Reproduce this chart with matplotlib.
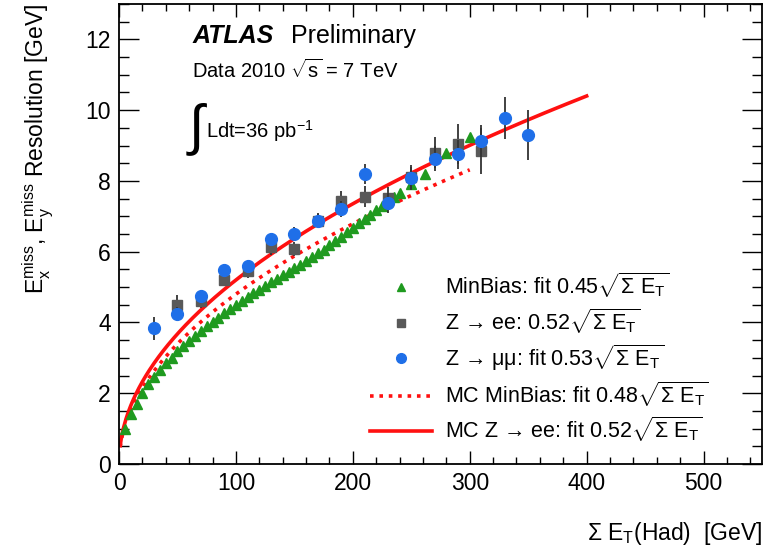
import matplotlib
matplotlib.use("Agg")
import matplotlib.pyplot as plt
import numpy as np
from matplotlib.ticker import MultipleLocator
from matplotlib.lines import Line2D

plt.rcParams["font.family"] = ["Liberation Sans", "DejaVu Sans"]
plt.rcParams["mathtext.fontset"] = "custom"
plt.rcParams["mathtext.rm"] = "Liberation Sans"
plt.rcParams["mathtext.it"] = "Liberation Sans:italic"
plt.rcParams["mathtext.bf"] = "Liberation Sans:bold"

# MinBias data (green triangles)
minbias_x = [5, 10, 15, 20, 25, 30, 35, 40, 45, 50, 55, 60, 65, 70, 75, 80, 85, 90,
             95, 100, 105, 110, 115, 120, 125, 130, 135, 140, 145, 150, 155, 160,
             165, 170, 175, 180, 185, 190, 195, 200, 205, 210, 215, 220, 225, 230,
             235, 240, 250, 262, 280, 300]
minbias_y = [1.0, 1.4, 1.7, 2.0, 2.25, 2.45, 2.65, 2.85, 3.0, 3.18, 3.33, 3.48, 3.62,
             3.76, 3.89, 4.02, 4.14, 4.26, 4.38, 4.5, 4.61, 4.72, 4.83, 4.93, 5.03,
             5.13, 5.23, 5.33, 5.43, 5.53, 5.63, 5.73, 5.84, 5.95, 6.06, 6.18, 6.3,
             6.42, 6.55, 6.68, 6.8, 6.93, 7.05, 7.18, 7.3, 7.42, 7.55, 7.66, 7.9,
             8.2, 8.8, 9.25]

# Z -> ee data (grey squares)
zee_x = [50, 70, 90, 110, 130, 150, 170, 190, 210, 230, 250, 270, 290, 310]
zee_y = [4.48, 4.6, 5.21, 5.45, 6.12, 6.08, 6.88, 7.44, 7.55, 7.52, 8.1, 8.8, 9.05, 8.85]
zee_err = [0.3, 0.2, 0.18, 0.18, 0.2, 0.2, 0.22, 0.28, 0.3, 0.32, 0.35, 0.44, 0.56, 0.65]

# Z -> mumu data (blue circles)
zmm_x = [30, 50, 70, 90, 110, 130, 150, 170, 190, 210, 230, 250, 270, 290, 310, 330, 350]
zmm_y = [3.83, 4.25, 4.76, 5.49, 5.6, 6.37, 6.51, 6.87, 7.21, 8.2, 7.37, 8.08, 8.63,
         8.75, 9.13, 9.77, 9.3]
zmm_err = [0.33, 0.18, 0.15, 0.15, 0.15, 0.17, 0.18, 0.2, 0.22, 0.28, 0.28, 0.3, 0.35,
           0.4, 0.45, 0.59, 0.7]

# MC fits: resolution = k * sqrt(sum ET), drawn up to given range
mc_minbias_k, mc_minbias_max = 0.48, 300
mc_zee_k, mc_zee_max = 0.52, 400

labels = ["MinBias: fit 0.45", "Z → ee: 0.52", "Z → μμ: fit 0.53",
          "MC MinBias: fit 0.48", "MC Z → ee: fit 0.52"]

c_green = "#1f9a1f"
c_grey = "#595959"
c_blue = "#1f6fe8"
c_red = "#ff1010"

fig = plt.figure(figsize=(7.66, 5.5), dpi=100)
ax = fig.add_axes([119 / 766, 86 / 550, 643 / 766, 460 / 550])

ax.plot(minbias_x, minbias_y, "^", color=c_green, ms=7, mec=c_green, zorder=3)
ax.errorbar(zee_x, zee_y, yerr=zee_err, fmt="s", color=c_grey, ms=7.5, ecolor="#333333",
            elinewidth=1.3, capsize=0, zorder=4)
ax.errorbar(zmm_x, zmm_y, yerr=zmm_err, fmt="o", color=c_blue, ms=8.5, ecolor="#333333",
            elinewidth=1.3, capsize=0, zorder=5)

dotted = (0, (1, 1.6))
xs = np.linspace(1, mc_minbias_max, 300)
ax.plot(xs, mc_minbias_k * np.sqrt(xs), color=c_red, lw=2.6, ls=dotted, zorder=2)
xs = np.linspace(1, mc_zee_max, 400)
ax.plot(xs, mc_zee_k * np.sqrt(xs), color=c_red, lw=2.6, zorder=2)

ax.set_xlim(0, 550)
ax.set_ylim(0, 13)
ax.xaxis.set_major_locator(MultipleLocator(100))
ax.xaxis.set_minor_locator(MultipleLocator(20))
ax.yaxis.set_major_locator(MultipleLocator(2))
ax.yaxis.set_minor_locator(MultipleLocator(0.5))
ax.tick_params(which="both", direction="in", top=True, right=True, labelsize=16.5, width=1)
ax.tick_params(axis="x", which="major", length=9.5, pad=6)
ax.tick_params(axis="x", which="minor", length=5)
ax.tick_params(axis="y", which="major", length=14.5, pad=6)
ax.tick_params(axis="y", which="minor", length=7.5)
for s in ax.spines.values():
    s.set_linewidth(1.3)

ax.set_xlabel(r"$\Sigma$ E$_{\mathrm{T}}$(Had)  [GeV]", fontsize=16.5, loc="right", labelpad=18)
ax.set_ylabel(r"E$_{\mathrm{x}}^{\mathrm{miss}}$, E$_{\mathrm{y}}^{\mathrm{miss}}$ Resolution [GeV]",
              fontsize=16.5, loc="top", labelpad=22)

ax.text(0.114, 0.915, "ATLAS", transform=ax.transAxes, fontsize=18,
        fontweight="bold", style="italic")
ax.text(0.268, 0.915, "Preliminary", transform=ax.transAxes, fontsize=18)
ax.text(0.114, 0.84, r"Data 2010 $\sqrt{\mathrm{s}}$ = 7 TeV", transform=ax.transAxes, fontsize=14.5)
ax.text(0.104, 0.695, r"$\int$", transform=ax.transAxes, fontsize=40)
ax.text(0.136, 0.71, r"Ldt=36 pb$^{-1}$", transform=ax.transAxes, fontsize=14.5)

sq = r"$\sqrt{\Sigma\ \mathrm{E}_{\mathrm{T}}}$"
handles = [
    Line2D([], [], ls="none", marker="^", color=c_green, ms=6),
    Line2D([], [], ls="none", marker="s", color=c_grey, ms=6),
    Line2D([], [], ls="none", marker="o", color=c_blue, ms=7),
    Line2D([], [], color=c_red, lw=2.6, ls=dotted),
    Line2D([], [], color=c_red, lw=2.6),
]
ax.legend(handles, [l + sq for l in labels], loc="upper left",
          bbox_to_anchor=(0.39, 0.42), frameon=False, fontsize=15.5,
          handlelength=2.9, handletextpad=0.6, numpoints=1,
          labelspacing=0.3, borderaxespad=0, borderpad=0)

fig.savefig("out.png", dpi=100)
